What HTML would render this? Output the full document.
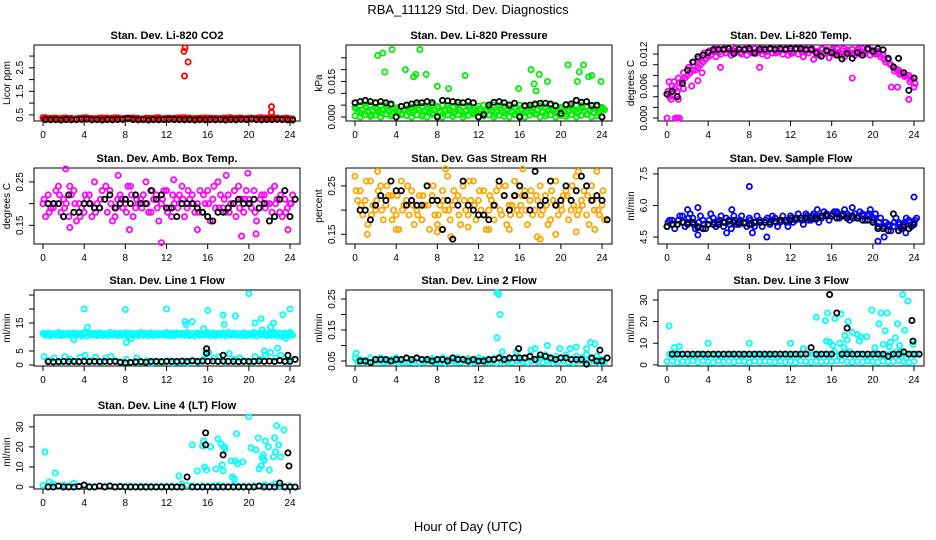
<!DOCTYPE html>
<html><head><meta charset="utf-8"><style>
html,body{margin:0;padding:0;background:#fff}
svg{display:block;font-family:"Liberation Sans",sans-serif}
</style></head><body>
<svg id="chart" width="936" height="540" viewBox="0 0 936 540">
<text x="468" y="14" text-anchor="middle" font-size="13">RBA_111129  Std. Dev. Diagnostics</text>
<text x="468" y="531" text-anchor="middle" font-size="13">Hour of Day (UTC)</text>
</svg>
<script>
// ---- data (values per 0.5 h unless noted) ----
const xTicks=[0,4,8,12,16,20,24];
const co2Red=[0.38,0.35,0.36,0.34,0.37,0.35,0.33,0.36,0.38,0.35,0.34,0.37,0.36,0.35,0.38,0.34,0.36,0.37,0.35,0.33,0.36,0.35,0.38,0.34,0.36,0.35,0.37,0.38,0.36,0.34,0.35,0.37,0.36,0.35,0.34,0.36,0.38,0.35,0.37,0.34,0.36,0.35,0.38,0.36,0.35,0.37,0.34,0.36,0.33];
const co2RedOut=[[13.8,3.35],[13.7,3.2],[13.75,2.15],[14.1,2.75],[22.2,0.85],[22.2,0.6],[0.1,0.38],[22.1,0.4]];
const co2Black=[0.3,0.29,0.3,0.28,0.3,0.29,0.3,0.31,0.32,0.29,0.3,0.28,0.3,0.29,0.3,0.31,0.34,0.3,0.29,0.3,0.28,0.3,0.29,0.3,0.31,0.3,0.3,0.29,0.3,0.28,0.3,0.29,0.3,0.29,0.3,0.28,0.3,0.29,0.31,0.3,0.32,0.3,0.29,0.3,0.3,0.31,0.3,0.29,0.28];
const pressHi=[0.004,0.005,0.0045,0.005,0.004,0.005,0.0048,0.005,0.003,0.0045,0.005,0.0042,0.005,0.0046,0.0038,0.005,0.0044,0.005,0.0047,0.004,0.005,0.0043,0.005,0.003,0.0046,0.005,0.0041,0.005,0.0048,0.0044,0.005,0.0042,0.005,0.0045,0.004,0.005,0.0047,0.0043,0.005,0.0046,0.004,0.005,0.0044,0.005,0.0048,0.0042,0.005,0.0045,0.004];
const pressMid=[0.0025,0.003,0.002,0.0028,0.0022,0.003,0.0026,0.002,0.0024,0.003,0.0021,0.0027,0.003,0.0023,0.0025,0.0029,0.002,0.0026,0.003,0.0022,0.0028,0.0024,0.003,0.002,0.0026,0.0023,0.0029,0.0021,0.0027,0.003,0.0024,0.0022,0.0028,0.0026,0.002,0.003,0.0023,0.0027,0.0025,0.0021,0.0029,0.0024,0.003,0.0022,0.0026,0.0028,0.002,0.0025,0.003];
const pressMid2=[0.0035,0.0015,0.0038,0.001,0.0034,0.0016,0.0036,0.0012,0.0039,0.0014,0.0035,0.0017,0.0037,0.0011,0.0034,0.0016,0.0038,0.0013,0.0036,0.0015,0.0035,0.0012,0.0039,0.0016,0.0034,0.0014,0.0037,0.0011,0.0036,0.0015,0.0038,0.0013,0.0035,0.0017,0.0036,0.0012,0.0039,0.0014,0.0034,0.0016,0.0037,0.0011,0.0035,0.0015,0.0038,0.0013,0.0036,0.0016,0.0035];
const pressLo=[0.0005,0.0,0.001,0.0002,0.0008,0.0,0.0012,0.0004,0.0,0.001,0.0006,0.0,0.0009,0.0003,0.0,0.0011,0.0005,0.0,0.0008,0.0002,0.001,0.0,0.0006,0.0012,0.0,0.0004,0.0009,0.0,0.0007,0.0003,0.0,0.001,0.0005,0.0,0.0008,0.0012,0.0,0.0004,0.0009,0.0,0.0006,0.0002,0.001,0.0,0.0007,0.0011,0.0,0.0005,0.0];
const pressGreenOut=[[2.2,0.026],[2.7,0.027],[3.6,0.0285],[6.3,0.0285],[2.9,0.019],[4.9,0.02],[5.7,0.017],[5.9,0.018],[6.9,0.018],[8,0.013],[9.1,0.012],[10.7,0.0175],[15.9,0.012],[17.1,0.02],[17.4,0.014],[17.6,0.011],[17.9,0.018],[18.7,0.015],[20.7,0.022],[21.6,0.015],[21.8,0.019],[22.2,0.022],[22.7,0.017],[23,0.0175],[23.9,0.015]];
const pressBlack=[0.006,0.0065,0.007,0.0065,0.006,0.0065,0.006,0.0055,0,0.0045,0.005,0.0055,0.006,0.006,0.0065,0.006,0,0.007,0.0068,0.0065,0.0062,0.006,0.0065,0.006,0,0.001,0.005,0.0062,0.0065,0.006,0.005,0.0058,0,0.0048,0.005,0.0055,0.0058,0.0058,0.0055,0.0048,0.0015,0.0052,0.0055,0.007,0.0062,0.0065,0.0048,0.005,0.0];
const tempMag=[0.0045,0.006,0.005,0.007,0.008,0.009,0.0095,0.0105,0.0115,0.0125,0.0128,0.0127,0.013,0.0126,0.0129,0.0128,0.0127,0.013,0.0125,0.0128,0.0129,0.0127,0.013,0.0128,0.0126,0.0129,0.0128,0.013,0.0127,0.0125,0.0129,0.0128,0.0127,0.013,0.0126,0.0128,0.0129,0.0127,0.013,0.0128,0.0127,0.0125,0.0118,0.011,0.0095,0.009,0.0085,0.008,0.0075];
const tempMag2=[0.004,0.0055,0.0065,0.0075,0.0085,0.009,0.01,0.011,0.0118,0.0115,0.012,0.0122,0.0118,0.0124,0.012,0.0118,0.0122,0.0125,0.012,0.0117,0.0122,0.0124,0.012,0.0118,0.0123,0.012,0.0115,0.0122,0.011,0.0118,0.0121,0.0113,0.012,0.0118,0.0115,0.0122,0.0118,0.012,0.0121,0.0118,0.012,0.0115,0.0105,0.01,0.0092,0.0085,0.008,0.0072];
const tempMag3=[0.005,0.0045,0.0075,0.0085,0.0095,0.0105,0.0112,0.0122,0.0126,0.013,0.0124,0.013,0.0125,0.013,0.0123,0.013,0.0126,0.0121,0.013,0.0124,0.013,0.0122,0.0127,0.013,0.0121,0.013,0.0124,0.0127,0.013,0.0122,0.013,0.0125,0.013,0.0123,0.013,0.0125,0.0122,0.013,0.0124,0.013,0.0122,0.0121,0.011,0.0102,0.0088,0.0082,0.0078,0.0068,0.0065];
const tempMagOut=[[0,0],[0.8,0],[1,0],[1.2,0],[0.4,0.0035],[1.1,0.0035],[23.5,0.0035],[0.2,0.0068],[9,0.0095],[18,0.0075],[5.2,0.0095],[21.8,0.0058],[22.4,0.0058],[24,0.0058],[0.7,0.0068],[1.6,0.0055],[2.4,0.006],[3,0.007],[3.4,0.0085]];
const tempBlack=[0.0045,0.005,0.004,0.0065,0.009,0.0105,0.0115,0.0118,0.0123,0.0128,0.0129,0.0129,0.013,0.0121,0.0129,0.0128,0.013,0.0122,0.0129,0.0129,0.013,0.0129,0.013,0.0129,0.013,0.013,0.013,0.0128,0.0129,0.0122,0.0116,0.0126,0.0123,0.0118,0.0111,0.0121,0.0112,0.0123,0.0118,0.013,0.0125,0.013,0.0128,0.0112,0.0096,0.0112,0.0085,0.0052,0.0075];
const ambMagA=[0.2,0.22,0.19,0.24,0.21,0.17,0.23,0.2,0.18,0.22,0.25,0.19,0.21,0.23,0.17,0.22,0.2,0.24,0.19,0.21,0.25,0.18,0.22,0.2,0.23,0.17,0.21,0.24,0.19,0.22,0.2,0.18,0.23,0.21,0.25,0.19,0.22,0.2,0.24,0.18,0.21,0.23,0.19,0.22,0.2,0.24,0.18,0.21,0.2];
const ambMagB=[0.17,0.19,0.23,0.18,0.2,0.22,0.16,0.19,0.21,0.17,0.2,0.23,0.18,0.16,0.21,0.19,0.24,0.17,0.2,0.22,0.18,0.21,0.16,0.23,0.19,0.2,0.22,0.17,0.21,0.18,0.23,0.2,0.16,0.19,0.22,0.18,0.2,0.17,0.21,0.23,0.19,0.16,0.22,0.2,0.18,0.21,0.17,0.19,0.22];
const ambMagC=[0.21,0.18,0.2,0.22,0.19,0.24,0.2,0.17,0.22,0.2,0.18,0.21,0.24,0.2,0.19,0.21,0.18,0.22,0.21,0.19,0.2,0.23,0.19,0.21,0.18,0.22,0.19,0.21,0.23,0.2,0.18,0.22,0.2,0.24,0.19,0.21,0.18,0.23,0.19,0.21,0.2,0.18,0.21,0.19,0.23,0.2,0.22,0.18,0.2];
const ambMagOut=[[2.2,0.28],[11.5,0.11],[19.3,0.125],[20.7,0.13],[23.8,0.14],[2.6,0.145],[8.4,0.14],[15,0.14],[7.3,0.265],[17.8,0.265],[19.9,0.27],[12.7,0.255]];
const ambBlack=[0.2,0.2,0.2,0.17,0.22,0.18,0.18,0.2,0.2,0.19,0.19,0.21,0.22,0.19,0.2,0.21,0.2,0.22,0.2,0.2,0.23,0.21,0.22,0.19,0.19,0.17,0.2,0.2,0.2,0.19,0.18,0.17,0.16,0.18,0.18,0.19,0.2,0.21,0.2,0.2,0.21,0.19,0.2,0.16,0.17,0.21,0.23,0.17,0.21];
const rhOrA=[0.27,0.24,0.22,0.26,0.2,0.25,0.21,0.23,0.19,0.26,0.22,0.24,0.2,0.18,0.25,0.23,0.17,0.24,0.27,0.21,0.23,0.25,0.19,0.26,0.22,0.24,0.2,0.18,0.25,0.23,0.21,0.26,0.19,0.24,0.22,0.2,0.25,0.23,0.18,0.26,0.21,0.24,0.2,0.27,0.22,0.19,0.25,0.23,0.21];
const rhOrB=[0.22,0.19,0.17,0.21,0.24,0.18,0.23,0.2,0.16,0.21,0.19,0.17,0.23,0.21,0.16,0.19,0.21,0.2,0.18,0.22,0.17,0.2,0.22,0.18,0.2,0.16,0.22,0.24,0.19,0.17,0.21,0.2,0.23,0.17,0.19,0.22,0.2,0.17,0.22,0.19,0.23,0.18,0.21,0.2,0.24,0.17,0.2,0.19,0.18];
const rhOrC=[0.24,0.21,0.26,0.19,0.22,0.2,0.25,0.18,0.23,0.2,0.25,0.21,0.19,0.23,0.21,0.25,0.19,0.22,0.2,0.24,0.19,0.22,0.26,0.21,0.24,0.19,0.23,0.21,0.2,0.25,0.19,0.23,0.21,0.2,0.24,0.23,0.19,0.21,0.24,0.21,0.2,0.23,0.25,0.19,0.21,0.23,0.22,0.2,0.24];
const rhOrOut=[[1.2,0.15],[4,0.16],[8,0.155],[9.3,0.145],[11,0.165],[13,0.16],[15,0.16],[17.7,0.145],[18,0.14],[19.5,0.15],[21.5,0.155],[23.3,0.16],[2.2,0.28],[8.8,0.285],[16.3,0.285],[21.7,0.28],[23.5,0.28]];
const rhBlack=[0.2,0.2,0.18,0.21,0.23,0.22,0.26,0.24,0.24,0.21,0.22,0.21,0.21,0.25,0.22,0.22,0.16,0.22,0.14,0.21,0.26,0.21,0.2,0.19,0.19,0.18,0.21,0.26,0.23,0.2,0.23,0.25,0.23,0.2,0.28,0.21,0.22,0.26,0.21,0.22,0.25,0.22,0.24,0.27,0.25,0.22,0.23,0.22,0.18];
const flowBlueA=[5.0,5.3,5.1,5.5,5.2,5.4,5.0,5.3,5.1,5.4,5.2,5.0,5.3,5.5,5.1,5.2,5.4,5.0,5.3,5.2,5.1,5.4,5.2,5.3,5.5,5.3,5.4,5.6,5.3,5.5,5.4,5.6,5.5,5.7,5.5,5.6,5.5,5.4,5.6,5.5,5.3,5.0,4.9,5.1,5.0,5.2,5.1,5.3,5.2];
const flowBlueB=[5.3,4.9,5.5,5.0,5.6,4.9,5.5,4.9,5.6,5.0,5.5,5.4,4.9,5.1,5.5,5.0,5.1,5.5,5.0,5.4,5.5,5.0,5.5,5.0,5.2,5.6,5.1,5.3,5.6,5.2,5.7,5.3,5.7,5.4,5.8,5.3,5.6,5.7,5.3,5.8,5.6,5.4,5.2,4.8,5.4,4.9,5.4,5.0,5.4];
const flowBlueC=[5.2,5.1,5.3,5.2,5.4,5.1,5.2,5.1,5.3,5.2,5.3,5.2,5.1,5.3,5.3,5.2,5.3,5.2,5.2,5.3,5.3,5.2,5.3,5.2,5.4,5.4,5.3,5.5,5.5,5.4,5.5,5.5,5.6,5.6,5.6,5.5,5.4,5.5,5.5,5.6,5.4,5.2,5.0,5.0,5.2,5.1,5.2,5.2,5.3];
const flowBlueOut=[[8,6.9],[16,7.8],[24,6.4],[20.5,4.3],[9.7,4.5],[3,4.6],[3,5.9],[8.3,4.7],[5.8,4.7],[21.1,4.5],[2,5.8],[6.3,5.8],[14.6,5.8],[18,5.9],[23.2,4.7]];
const flowBlack=[5.0,5.1,5.1,5.2,5.1,5.2,4.95,4.9,5.1,5.1,5.1,5.2,5.25,5.2,5.2,5.15,5.1,5.2,5.2,5.2,5.2,5.25,5.3,5.3,5.3,5.4,5.4,5.4,5.4,5.35,5.5,5.5,5.5,5.4,5.5,5.4,5.5,5.4,5.3,5.3,5.2,4.9,4.9,4.8,5.6,4.8,5.0,4.9,5.1];
const l1Hi=[11.3,11.5,11.2,11.6,11.3,11.4,11.5,11.2,11.6,11.4,11.3,11.5,11.2,11.6,11.4,11.3,11.5,11.4,11.2,11.6,11.3,11.5,11.4,11.2,11.6,11.3,11.5,11.4,11.6,11.3,11.5,11.2,11.6,11.4,11.3,11.5,11.6,11.4,11.3,11.5,11.2,11.6,11.4,11.5,11.3,11.6,11.4,11.5,11.6];
const l1Mid=[11,10.9,11.1,11,10.8,11.1,11,10.9,11.2,11,10.9,11.1,11,10.8,11.1,11,10.9,11.1,11,10.9,11.1,11,10.8,11.1,11,10.9,11.1,11,10.9,11.1,11,10.8,11.1,11,10.9,11.1,11,10.9,11.1,11,10.8,11.1,11,10.9,11.1,11,10.9,11.1,11];
const l1Lo=[10.6,10.4,10.7,10.5,10.8,10.4,10.6,10.5,10.3,10.7,10.5,10.6,10.4,10.7,10.5,10.6,10.4,10.7,10.5,10.6,10.4,10.5,10.7,10.6,10.4,10.5,10.7,10.6,10.5,10.4,10.6,10.7,10.5,10.4,10.6,10.5,10.7,10.6,10.4,10.5,10.6,10.3,10.7,10.5,10.6,10.4,10.2,10.5,10.6];
const l1Low=[3,1.5,2.5,1,3,2,1.2,2.8,3.5,1.5,2.8,1,2.5,3,1.4,1,2,0.8,2.5,1,1.5,0.8,1.2,1,1.5,0.8,1,1.2,0.8,1.5,1,2,4.5,2.5,3,1.2,4,2,2.5,1.5,1,3,2,3.5,4.5,2.5,3.5,1.5,2];
const l1CyanOut=[[4,20],[8,19.8],[12,20],[16,19.5],[20,25.5],[18.7,17.5],[17.5,17.8],[13.8,15.5],[14.5,15.5],[21.2,16.5],[20.6,15],[22.4,15],[23.3,18],[24,20],[3,9],[8.1,8],[22.8,6],[21.5,5],[15.8,4.5],[4.3,13.5],[8.6,9.5],[17.6,14.5],[23.6,9.5],[13.9,14.5],[15.6,13],[22.1,13.5],[21.3,12.5]];
const l1Black=[1.2,1.1,1.2,1.3,1.2,1.3,1.2,1.3,1.2,1.3,1.2,1.3,1.2,1.3,1.0,0.8,0.9,1.1,1.2,1.0,1.3,1.3,1.2,1.3,1.3,1.3,1.4,1.3,1.5,1.3,1.4,1.3,1.4,1.3,1.4,1.3,1.3,1.2,1.3,1.3,1.3,1.4,1.3,1.4,1.3,1.6,1.3,1.3,2];
const l1BlackOut=[[15.9,5.8],[15.9,4.2],[17.5,3.5],[23.8,3.5]];
const l2CyanA=[0.06,0.055,0.05,0.06,0.055,0.06,0.05,0.055,0.06,0.052,0.058,0.05,0.06,0.055,0.05,0.058,0.052,0.06,0.055,0.05,0.06,0.054,0.058,0.05,0.06,0.055,0.052,0.058,0.06,0.05,0.055,0.06,0.052,0.058,0.065,0.055,0.06,0.07,0.055,0.065,0.06,0.07,0.055,0.065,0.06,0.07,0.058,0.065,0.055];
const l2CyanB=[0.048,0.05,0.045,0.048,0.05,0.046,0.048,0.05,0.045,0.048,0.046,0.05,0.045,0.048,0.05,0.046,0.048,0.045,0.05,0.048,0.046,0.05,0.045,0.048,0.05,0.046,0.048,0.045,0.05,0.048,0.046,0.05,0.048,0.045,0.05,0.048,0.046,0.05,0.045,0.048,0.05,0.046,0.045,0.05,0.048,0.046,0.05,0.045,0.048];
const l2CyanOut=[[13.8,0.27],[13.95,0.265],[14.1,0.2],[13.8,0.125],[14.3,0.08],[18.7,0.1],[22.9,0.11],[23.3,0.105],[21.5,0.095],[19.9,0.09],[17.5,0.09],[17.1,0.085],[0.1,0.075],[15.7,0.08],[20.9,0.09],[22.5,0.09]];
const l2Black=[0.05,0.05,0.045,0.055,0.055,0.055,0.05,0.055,0.055,0.06,0.055,0.06,0.055,0.055,0.05,0.055,0.055,0.05,0.06,0.055,0.055,0.05,0.055,0.05,0.05,0.055,0.055,0.06,0.055,0.06,0.06,0.06,0.06,0.065,0.055,0.07,0.065,0.06,0.055,0.06,0.06,0.055,0.055,0.055,0.04,0.06,0.05,0.05,0.06];
const l2BlackOut=[[15.9,0.09],[23.8,0.085]];
const l3CyanLow=[1.5,1.8,1.2,1.6,1.4,1.9,1.3,1.7,1.5,1.2,1.8,1.4,1.6,1.3,1.7,1.5,1.2,1.8,1.4,1.6,1.5,1.3,1.7,1.4,1.6,1.2,1.8,1.5,1.3,1.7,1.4,1.6,1.5,1.9,2,1.5,1.3,1.6,1.4,1.8,1.5,1.3,1.7,1.4,1.6,1.9,1.5,1.3,1.6];
const l3CyanMid=[5,4.5,4.8,3.5,4.6,4.2,5,4.4,4.8,4.5,4.2,4.6,4.8,3.8,4.5,4.6,4.2,4.8,4.4,4.5,4.6,4.2,4.8,4.5,4.4,4.6,7.5,5,4.8,4.5,5,4.5,6,4.8,5.5,6,4.5,5,4.5,4,5,4.5,4.8,5,6,5,3,5,5];
const l3CyanOut=[[0.2,18],[0.7,8],[1.2,8.5],[4,10],[8,10],[12,10],[14.5,22],[15.4,20.5],[15.6,24],[15.5,11],[15.8,10.5],[16.1,9],[16.3,21.5],[16.8,10],[16.9,23.5],[17.3,13.5],[17.5,11.5],[17.6,20],[18,15],[18.5,14],[18.8,13],[18.7,11],[19.4,13],[19.9,25.3],[20.2,8],[20.6,19],[20.8,24],[21,9.5],[21.2,15.8],[21.4,24],[21.6,8.5],[21.7,10.5],[22.2,12.5],[22.4,19],[22.6,9],[22.9,32.5],[23.1,16],[23.4,29.5],[23.9,9.5],[17.2,8],[22.7,6]];
const l3Black=[5,5,5,5,5,5,5,5,5,5,5,5,5,5,5,5,5,5,5,5,5,5,5,5,5,5,5,8,5,5,5,5,24,5,5,5,5,5,5,5,5,5,4,5,5,6,5,5,5];
const l3BlackOut=[[15.8,32.5],[17.5,17],[23.8,20.5],[23.9,11]];
const l4Cyan=[0.8,0.5,1.5,0.3,1,0.5,1.8,0.3,0.8,0.4,0.2,0.5,0.3,0.6,0.2,0.4,0.3,0.5,0.2,0.4,0.3,0.5,0.2,0.4,0.3,0.5,0.2,1.5,0.8,0.5,0.3,0.6,0.4,0.5,0.8,0.5,0.3,0.6,0.5,0.4,0.3,0.6,0.4,1,0.5,1.5,0.6,0.3,0.5];
const l4CyanOut=[[0.2,17.5],[0.6,2.5],[1.2,7],[13.2,5.5],[14.5,21],[15,8],[15.5,20.5],[15.6,23],[15.7,10],[15.9,8.5],[16.3,20],[16.8,9],[17,24],[17.3,21.5],[17.4,11],[17.5,8],[17.6,20],[17.7,19],[18.3,13],[18.4,5],[18.6,4],[18.7,13],[18.8,26.5],[18.9,11.5],[19.4,12.5],[20,35],[20.2,19.5],[20.7,18.5],[20.9,24.5],[21,9],[21.2,10.5],[21.4,16],[21.5,13.5],[21.6,23],[21.9,20],[22,8.5],[22.4,15],[22.5,24.5],[22.6,17.5],[22.7,30.5],[22.9,21],[23.1,15],[23.4,28.5],[21.3,14.5]];
const l4Black=[0,0,0.5,0,0,0,0.3,1,0,0,0.5,0,0.5,0,0.2,0,0,0,0,0,0,0,0,0,0,0,0,5,0,0,0,0,0,0,0,0,0,0,0,0,0,0.5,0,0,0,2,0,0,0];
const l4BlackOut=[[15.8,27],[15.8,21],[17.5,16],[23.8,17],[23.9,10.5]];

// ---- layout ----
const svg=document.getElementById('chart');
const NS='http://www.w3.org/2000/svg';
const colL=[34,346,658], rowT=[45,168,290,415];
function mk(tag,attrs,parent){const e=document.createElementNS(NS,tag);for(const k in attrs)e.setAttribute(k,attrs[k]);parent.appendChild(e);return e;}

function panel(cfg){
  const L=colL[cfg.c],T=rowT[cfg.r],W=266,H=cfg.r===3?74:76;
  const g=mk('g',{},svg);
  
  
  const xs=v=>L+9+v*(247/24);
  const ys=v=>T+H-(v-cfg.ymin)/(cfg.ymax-cfg.ymin)*H;
  const t=mk('text',{x:L+W/2,y:T-6,'text-anchor':'middle','font-size':11,'font-weight':'bold'},g);
  t.textContent=cfg.title;
  
  
  const box=mk('rect',{x:L,y:T,width:W,height:H,fill:'none',stroke:'#000','stroke-width':1},g);
  
  
  xTicks.forEach(v=>{
    mk('line',{x1:xs(v),x2:xs(v),y1:T+H,y2:T+H+5,stroke:'#000'},g);
    const tx=mk('text',{x:xs(v),y:T+H+17,'text-anchor':'middle','font-size':10},g);
    tx.textContent=v;
    
    
  });
  cfg.ticks.forEach(v=>{mk('line',{x1:L,x2:L-5,y1:ys(v),y2:ys(v),stroke:'#000'},g);});
  cfg.labels.forEach(v=>{
    const y=ys(parseFloat(v));
    const tx=mk('text',{x:L-11,y:y,'text-anchor':'middle','font-size':10,transform:`rotate(-90 ${L-11} ${y})`},g);
    tx.textContent=v;
    
    
  });
  const yl=mk('text',{x:L-24,y:T+H/2,'text-anchor':'middle','font-size':10,transform:`rotate(-90 ${L-24} ${T+H/2})`},g);
  yl.textContent=cfg.ylab;
  
  
  const dot=(x,y,col)=>{
    if(y<cfg.ymin||y>cfg.ymax+1e-9)return;
    const c=mk('circle',{cx:xs(x),cy:ys(y),r:2.6,fill:'none',stroke:col,'stroke-width':1.8},g);
    
    
  };
  cfg.series.forEach(s=>{s.vals.forEach((v,i)=>dot(s.start+i*0.5,v,s.color));});
  cfg.outs.forEach(o=>{o.pts.forEach(p=>dot(p[0],p[1],o.color));});
  cfg.bseries.forEach(s=>{s.vals.forEach((v,i)=>dot(s.start+i*0.5,v,'#000'));});
  cfg.bouts.forEach(o=>{o.pts.forEach(p=>dot(p[0],p[1],'#000'));});
}
const R='#ff0000',G='#00ee00',M='#ff00ff',O='#ffa500',B='#0000ff',C='#00ffff';
panel({name:'panel-co2',r:0,c:0,title:'Stan. Dev. Li-820 CO2',ylab:'Licor ppm',ymin:0.24,ymax:3.47,ticks:[0.5,1,1.5,2,2.5,3],labels:['0.5','1.5','2.5'],
  series:[{vals:co2Red,start:0,color:R},{vals:co2Red,start:0.25,color:R}],outs:[{pts:co2RedOut,color:R}],bseries:[{vals:co2Black,start:0.25}],bouts:[]});
panel({name:'panel-pressure',r:0,c:1,title:'Stan. Dev. Li-820 Pressure',ylab:'kPa',ymin:-0.0017,ymax:0.0304,ticks:[0,0.005,0.01,0.015,0.02,0.025],labels:['0.000','0.015'],
  series:[{vals:pressHi,start:0,color:G},{vals:pressMid,start:0.25,color:G},{vals:pressMid2,start:0.1,color:G},{vals:pressLo,start:0,color:G}],outs:[{pts:pressGreenOut,color:G}],bseries:[{vals:pressBlack,start:0}],bouts:[]});
panel({name:'panel-temp',r:0,c:2,title:'Stan. Dev. Li-820 Temp.',ylab:'degrees C',ymin:-0.00055,ymax:0.0137,ticks:[0,0.002,0.004,0.006,0.008,0.01,0.012],labels:['0.000','0.006','0.012'],
  series:[{vals:tempMag,start:0,color:M},{vals:tempMag2,start:0.25,color:M},{vals:tempMag3,start:0.1,color:M}],outs:[{pts:tempMagOut,color:M}],bseries:[{vals:tempBlack,start:0}],bouts:[]});
panel({name:'panel-amb-box-temp',r:1,c:0,title:'Stan. Dev. Amb. Box Temp.',ylab:'degrees C',ymin:0.107,ymax:0.282,ticks:[0.15,0.2,0.25],labels:['0.15','0.25'],
  series:[{vals:ambMagA,start:0,color:M},{vals:ambMagB,start:0.25,color:M},{vals:ambMagC,start:0.1,color:M}],outs:[{pts:ambMagOut,color:M}],bseries:[{vals:ambBlack,start:0.5}],bouts:[]});
panel({name:'panel-gas-rh',r:1,c:1,title:'Stan. Dev. Gas Stream RH',ylab:'percent',ymin:0.13,ymax:0.287,ticks:[0.15,0.2,0.25],labels:['0.15','0.25'],
  series:[{vals:rhOrA,start:0,color:O},{vals:rhOrB,start:0.25,color:O},{vals:rhOrC,start:0.1,color:O}],outs:[{pts:rhOrOut,color:O}],bseries:[{vals:rhBlack,start:0.5}],bouts:[]});
panel({name:'panel-sample-flow',r:1,c:2,title:'Stan. Dev. Sample Flow',ylab:'ml/min',ymin:4.17,ymax:7.78,ticks:[4.5,6,7.5],labels:['4.5','6.0','7.5'],
  series:[{vals:flowBlueA,start:0,color:B},{vals:flowBlueB,start:0.25,color:B},{vals:flowBlueC,start:0.1,color:B}],outs:[{pts:flowBlueOut,color:B}],bseries:[{vals:flowBlack,start:0}],bouts:[]});
panel({name:'panel-line1-flow',r:2,c:0,title:'Stan. Dev. Line 1 Flow',ylab:'ml/min',ymin:-0.36,ymax:26.8,ticks:[0,5,10,15,20,25],labels:['0','5','15'],
  series:[{vals:l1Hi,start:0,color:C},{vals:l1Mid,start:0.1,color:C},{vals:l1Lo,start:0.25,color:C},{vals:l1Low,start:0.1,color:C}],outs:[{pts:l1CyanOut,color:C}],bseries:[{vals:l1Black,start:0.5}],bouts:[{pts:l1BlackOut}]});
panel({name:'panel-line2-flow',r:2,c:1,title:'Stan. Dev. Line 2 Flow',ylab:'ml/min',ymin:0.034,ymax:0.279,ticks:[0.05,0.1,0.15,0.2,0.25],labels:['0.05','0.15','0.25'],
  series:[{vals:l2CyanA,start:0,color:C},{vals:l2CyanB,start:0.25,color:C}],outs:[{pts:l2CyanOut,color:C}],bseries:[{vals:l2Black,start:0.5}],bouts:[{pts:l2BlackOut}]});
panel({name:'panel-line3-flow',r:2,c:2,title:'Stan. Dev. Line 3 Flow',ylab:'ml/min',ymin:-0.5,ymax:34.6,ticks:[0,10,20,30],labels:['0','10','20','30'],
  series:[{vals:l3CyanLow,start:0,color:C},{vals:l3CyanMid,start:0.25,color:C}],outs:[{pts:l3CyanOut,color:C}],bseries:[{vals:l3Black,start:0.5}],bouts:[{pts:l3BlackOut}]});
panel({name:'panel-line4-flow',r:3,c:0,title:'Stan. Dev. Line 4 (LT) Flow',ylab:'ml/min',ymin:-1,ymax:35.9,ticks:[0,10,20,30],labels:['0','10','20','30'],
  series:[{vals:l4Cyan,start:0,color:C}],outs:[{pts:l4CyanOut,color:C}],bseries:[{vals:l4Black,start:0.5}],bouts:[{pts:l4BlackOut}]});
</script>
</body></html>
